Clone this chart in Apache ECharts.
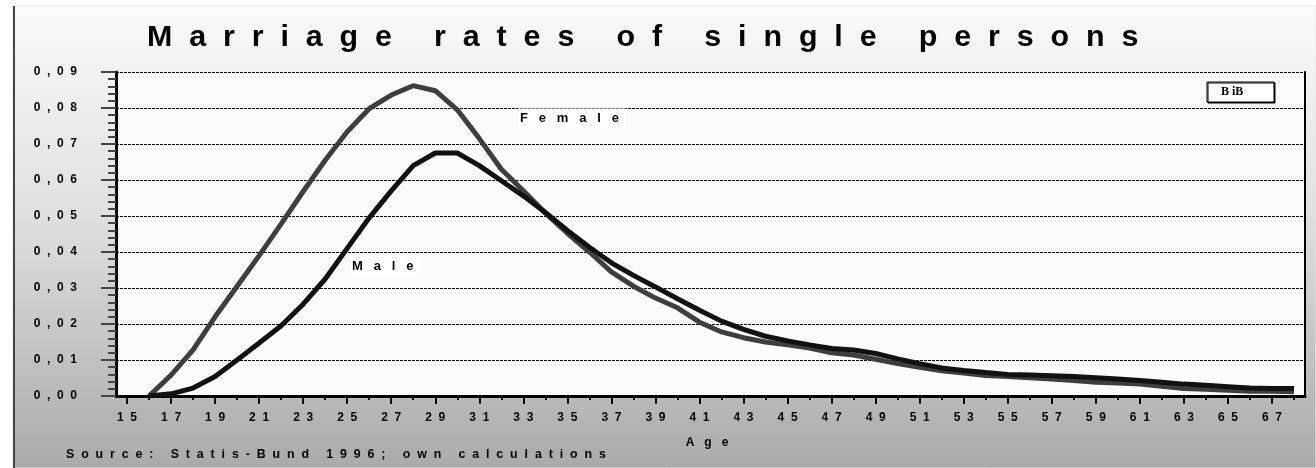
<!DOCTYPE html>
<html>
<head>
<meta charset="utf-8">
<script src="https://cdn.jsdelivr.net/npm/echarts@6/dist/echarts.min.js"></script>
<style>
html,body{margin:0;padding:0;background:#fff;}
#chart{width:1316px;height:468px;}
</style>
</head>
<body>
<div id="chart"></div>
<script>
var titleText = 'Marriage rates of single persons';
var sourceText = 'Source: Statis-Bund 1996; own calculations';
var xAxisName = 'Age';
var badgeText = 'B iB';
var ages = [];
for (var a = 15; a <= 68; a++) ages.push(String(a));
var yTicks = [0, 0.01, 0.02, 0.03, 0.04, 0.05, 0.06, 0.07, 0.08, 0.09];

var female = [null, 0.0, 0.0058, 0.0128, 0.0220, 0.0305, 0.0390, 0.0478, 0.0568, 0.0655,
  0.0734, 0.0798, 0.0836, 0.0862, 0.0848, 0.0795, 0.0715, 0.0630, 0.0570, 0.0508,
  0.0452, 0.0400, 0.0345, 0.0305, 0.0272, 0.0245, 0.0205, 0.0178, 0.0162, 0.0150,
  0.0142, 0.0133, 0.0120, 0.0114, 0.0102, 0.0090, 0.0080, 0.0070, 0.0064, 0.0057,
  0.0054, 0.0051, 0.0047, 0.0043, 0.0038, 0.0036, 0.0033, 0.0027, 0.0021, 0.0019,
  0.0016, 0.0013, 0.0013, 0.0012];
var male = [null, 0.0, 0.0006, 0.0022, 0.0054, 0.0100, 0.0147, 0.0195, 0.0255, 0.0325,
  0.0410, 0.0495, 0.0570, 0.0640, 0.0675, 0.0675, 0.0640, 0.0598, 0.0556, 0.0510,
  0.0460, 0.0413, 0.0370, 0.0335, 0.0303, 0.0270, 0.0238, 0.0208, 0.0185, 0.0166,
  0.0153, 0.0142, 0.0132, 0.0128, 0.0118, 0.0103, 0.0090, 0.0078, 0.0071, 0.0065,
  0.0060, 0.0058, 0.0056, 0.0054, 0.0051, 0.0047, 0.0043, 0.0038, 0.0033, 0.0030,
  0.0026, 0.0022, 0.0021, 0.0021];

function spaced(s, n) {
  var g = new Array(n + 1).join(' ');
  return s.split('').join(g);
}

var FONT = '"Liberation Sans", Arial, sans-serif';
var chart = echarts.init(document.getElementById('chart'), null, {renderer: 'canvas'});
var labelStyle = {color: '#000', fontFamily: FONT, fontWeight: 'bold', fontSize: 12};

function txt(text, size, extra) {
  var s = {text: text, fontFamily: FONT, fontWeight: 'bold', fontSize: size, fill: '#000', verticalAlign: 'middle'};
  for (var k in extra) s[k] = extra[k];
  return s;
}

chart.setOption({
  animation: false,
  backgroundColor: '#fff',
  title: {
    text: spaced(titleText, 2),
    left: 142, top: 18,
    textStyle: {fontFamily: FONT, fontWeight: 'bold', fontSize: 30.4, color: '#000'}
  },
  grid: {left: 116, right: 11, top: 72, bottom: 72, show: true, backgroundColor: '#fbfbfb', borderWidth: 0, containLabel: false},
  xAxis: [{
    type: 'category', data: ages, boundaryGap: true, position: 'bottom',
    axisLine: {show: true, lineStyle: {color: '#000', width: 3}},
    axisTick: {show: true, alignWithLabel: true, interval: 0, length: 4, lineStyle: {color: '#000', width: 2}},
    axisLabel: Object.assign({interval: 1, margin: 16, formatter: function (v) { return spaced(v, 2); }}, labelStyle),
    splitLine: {show: false}
  }, {
    type: 'category', data: ages, boundaryGap: true, position: 'bottom',
    axisLine: {show: false},
    axisTick: {show: true, alignWithLabel: true, interval: 1, length: 8, lineStyle: {color: '#000', width: 2}},
    axisLabel: {show: false},
    splitLine: {show: false}
  }],
  yAxis: [{
    type: 'value', min: yTicks[0], max: yTicks[yTicks.length - 1], interval: 0.01,
    axisLine: {show: true, lineStyle: {color: '#000', width: 3}},
    axisTick: {show: true, inside: false, length: 15, lineStyle: {color: '#444', width: 2}},
    minorTick: {show: true, splitNumber: 5, length: 8, lineStyle: {color: '#444', width: 2}},
    axisLabel: Object.assign({margin: 39, formatter: function (v) { return spaced(v.toFixed(2).replace('.', ','), 2); }}, labelStyle),
    splitLine: {show: true, lineStyle: {color: '#000', width: 1, type: [3, 1]}}
  }, {
    type: 'value', min: yTicks[0], max: yTicks[yTicks.length - 1], interval: 0.01, position: 'right',
    axisLine: {show: true, lineStyle: {color: '#000', width: 2}},
    axisTick: {show: false}, axisLabel: {show: false}, splitLine: {show: false}
  }],
  series: [{
    name: 'Female', type: 'line', data: female, symbol: 'none', smooth: false,
    lineStyle: {color: '#3e3e3e', width: 5}, z: 3
  }, {
    name: 'Male', type: 'line', data: male, symbol: 'none', smooth: false,
    lineStyle: {color: '#111', width: 5}, z: 4
  }],
  graphic: [{
    type: 'rect', z: -100, silent: true,
    shape: {x: 13, y: 6, width: 1303, height: 462},
    style: {fill: {type: 'linear', x: 0, y: 0, x2: 0, y2: 1, colorStops: [{offset: 0, color: '#fafafa'}, {offset: 0.45, color: '#e0e0e0'}, {offset: 1, color: '#aaaaaa'}]}, stroke: '#e6e6e6', lineWidth: 1}
  }, {
    type: 'line', z: -99, silent: true,
    shape: {x1: 14, y1: 6, x2: 14, y2: 468},
    style: {stroke: '#444', lineWidth: 2}
  }, {
    type: 'text', z: 100, x: 518, y: 118,
    style: txt(spaced('Female', 3), 13, {backgroundColor: '#fff', padding: [3, 7, 3, 2]})
  }, {
    type: 'text', z: 100, x: 350, y: 266,
    style: txt(spaced('Male', 3), 13, {backgroundColor: '#fff', padding: [3, 7, 3, 2]})
  }, {
    type: 'rect', z: 100,
    shape: {x: 1207, y: 82, width: 67, height: 20},
    style: {fill: '#fff', stroke: '#000', lineWidth: 1, shadowColor: '#000', shadowOffsetX: 1, shadowOffsetY: 1, shadowBlur: 0}
  }, {
    type: 'text', z: 101, x: 1221, y: 92,
    style: {text: badgeText, fontFamily: '"Liberation Serif", serif', fontWeight: 'bold', fontSize: 12, fill: '#000', verticalAlign: 'middle'}
  }, {
    type: 'text', z: 100, x: 707, y: 443,
    style: txt(spaced(xAxisName, 3), 12, {align: 'center'})
  }, {
    type: 'text', z: 100, x: 66, y: 455,
    style: txt(spaced(sourceText, 2), 12.4, {})
  }]
});
</script>
</body>
</html>
